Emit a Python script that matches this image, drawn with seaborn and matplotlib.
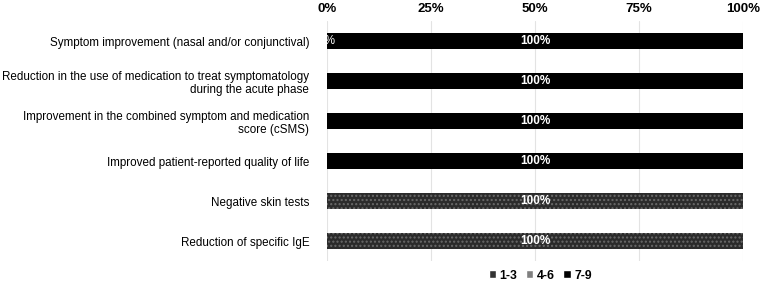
import numpy as np
import pandas as pd
import matplotlib
matplotlib.use("Agg")
import matplotlib.pyplot as plt
import seaborn as sns
from matplotlib.patches import Patch

# Outcomes (top to bottom) and share of panel scores per range
outcomes = [
    "Symptom improvement (nasal and/or conjunctival)",
    "Reduction in the use of medication to treat symptomatology\nduring the acute phase",
    "Improvement in the combined symptom and medication\nscore (cSMS)",
    "Improved patient-reported quality of life",
    "Negative skin tests",
    "Reduction of specific IgE",
]
score_1_3 = [0, 0, 0, 0, 0, 0]
score_4_6 = [0, 0, 0, 0, 0, 0]
score_7_9 = [100, 100, 100, 100, 100, 100]
x_ticks = [0, 25, 50, 75, 100]
tick_labels = ["0%", "25%", "50%", "75%", "100%"]
dotted_rows = [4, 5]
zero_label_rows = [0]

colors = {"1-3": "#333333", "4-6": "#7f7f7f", "7-9": "#000000"}

sns.set_theme(style="white")
plt.rcParams["font.family"] = ["Liberation Sans", "DejaVu Sans"]
plt.rcParams["text.color"] = "black"
plt.rcParams["xtick.color"] = "black"
plt.rcParams["ytick.color"] = "black"

df = pd.DataFrame({"Outcome": outcomes, "1-3": score_1_3,
                   "4-6": score_4_6, "7-9": score_7_9})
df["cum_4_6"] = df["1-3"] + df["4-6"]
df["cum_7_9"] = df["cum_4_6"] + df["7-9"]

fig = plt.figure(figsize=(7.61, 2.88), dpi=100)
ax = fig.add_axes([0.43, 0.093, 0.546, 0.834])

# stacked bars, drawn from the full length down
n = len(outcomes)
sns.barplot(data=df, x="cum_7_9", y="Outcome", color=colors["7-9"], orient="h",
            width=0.4, linewidth=0, ax=ax)
sns.barplot(data=df, x="cum_4_6", y="Outcome", color=colors["4-6"], orient="h",
            width=0.4, linewidth=0, ax=ax)
sns.barplot(data=df, x="1-3", y="Outcome", color=colors["1-3"], orient="h",
            width=0.4, linewidth=0, ax=ax)

for i in dotted_rows:
    p = ax.patches[i]
    p.set_facecolor("#2b2b2b")
    p.set_edgecolor("#6a6a6a")
    p.set_hatch("....")
    p.set_linewidth(0)

for i in range(n):
    ax.text(df["cum_4_6"][i] + df["7-9"][i] / 2, i, f"{score_7_9[i]}%",
            ha="center", va="center", color="white", fontsize=8.5,
            fontweight="bold")
for i in zero_label_rows:
    ax.text(0, i, f"{score_4_6[i]}%", ha="center", va="center",
            color="white", fontsize=8.5, clip_on=True)

ax.set_xlim(0, 100)
ax.set_ylim(n - 0.5, -0.5)
ax.set_xticks(x_ticks)
ax.set_xticklabels(tick_labels, fontweight="bold", fontsize=9.5)
ax.xaxis.tick_top()
ax.tick_params(axis="both", length=0)
ax.tick_params(axis="x", pad=4)
ax.tick_params(axis="y", pad=13, labelsize=8.4)
ax.set_xlabel("")
ax.set_ylabel("")
for lbl in ax.get_yticklabels():
    lbl.set_horizontalalignment("right")
    lbl.set_multialignment("right")
ax.xaxis.grid(True, color="#e3e3e3", linewidth=0.8)
ax.set_axisbelow(True)
sns.despine(ax=ax, left=True, bottom=True)

handles = [Patch(facecolor=colors[k], label=k) for k in ["1-3", "4-6", "7-9"]]
leg = fig.legend(handles=handles, loc="center", bbox_to_anchor=(0.71, 0.043),
                 ncol=3, frameon=False, handlelength=0.6, handleheight=0.6,
                 handletextpad=0.3, columnspacing=0.7,
                 prop={"weight": "bold", "size": 8.8})

fig.savefig("out.png", dpi=100)
